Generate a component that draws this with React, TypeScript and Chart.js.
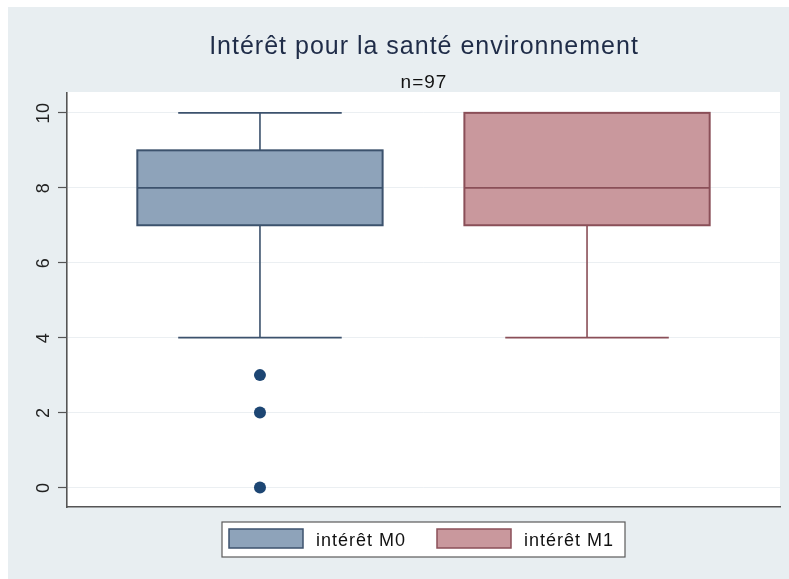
import React, { useEffect, useRef } from 'react';
import { Chart, registerables } from 'chart.js';

Chart.register(...registerables);

// ---- data ----
const titleText = 'Intérêt pour la santé environnement';
const subtitleText = 'n=97';
const seriesNames = ['intérêt M0', 'intérêt M1'];
const seriesX = [0, 1];
const lowerWhisker = [4, 4];
const q1 = [7, 7];
const medians = [8, 8];
const q3 = [9, 10];
const upperWhisker = [10, 10];
const outliersM0 = [3, 2, 0];
const outliersM1: number[] = [];
const yTicks = [0, 2, 4, 6, 8, 10];

// ---- styles ----
const fills = ['#8ea3ba', '#c9989d'];
const strokes = ['#3c526d', '#8a4f58'];
const dotColor = '#1d4673';
const FONT = '"Liberation Sans", Arial, Helvetica, sans-serif';

const BOX_HALF = 0.375;
const CAP_HALF = 0.25;

const stataPlugin = {
  id: 'stataLook',
  beforeDraw(chart: any) {
    const { ctx, chartArea: a, width, height } = chart;
    ctx.save();
    ctx.fillStyle = '#ffffff';
    ctx.fillRect(0, 0, width, height);
    ctx.fillStyle = '#e8eef1';
    ctx.fillRect(8, 7, width - 8, height - 7);
    ctx.fillStyle = '#ffffff';
    ctx.fillRect(a.left, a.top - 1, a.right - a.left, a.bottom - a.top + 1);
    ctx.restore();
  },
  beforeDatasetsDraw(chart: any) {
    const { ctx } = chart;
    const xs = chart.scales.x;
    const ys = chart.scales.y;
    ctx.save();
    seriesX.forEach((xv, i) => {
      const cx = xs.getPixelForValue(xv);
      const bl = xs.getPixelForValue(xv - BOX_HALF);
      const br = xs.getPixelForValue(xv + BOX_HALF);
      const cl = xs.getPixelForValue(xv - CAP_HALF);
      const cr = xs.getPixelForValue(xv + CAP_HALF);
      const yq1 = ys.getPixelForValue(q1[i]);
      const yq3 = ys.getPixelForValue(q3[i]);
      const ymed = ys.getPixelForValue(medians[i]);
      const ylw = ys.getPixelForValue(lowerWhisker[i]);
      const yuw = ys.getPixelForValue(upperWhisker[i]);
      ctx.strokeStyle = strokes[i];
      ctx.lineWidth = 1.6;
      ctx.beginPath();
      ctx.moveTo(cx, yq1); ctx.lineTo(cx, ylw);
      ctx.moveTo(cl, ylw); ctx.lineTo(cr, ylw);
      ctx.moveTo(cx, yq3); ctx.lineTo(cx, yuw);
      ctx.moveTo(cl, yuw); ctx.lineTo(cr, yuw);
      ctx.stroke();
      ctx.fillStyle = fills[i];
      ctx.fillRect(bl, yq3, br - bl, yq1 - yq3);
      ctx.lineWidth = 2;
      ctx.strokeRect(bl, yq3, br - bl, yq1 - yq3);
      ctx.lineWidth = 1.8;
      ctx.beginPath();
      ctx.moveTo(bl, ymed); ctx.lineTo(br, ymed);
      ctx.stroke();
    });
    ctx.restore();
  },
  afterDraw(chart: any) {
    const { ctx, chartArea: a } = chart;
    const ys = chart.scales.y;
    const cx = (a.left + a.right) / 2;
    ctx.save();
    ctx.textAlign = 'center';
    ctx.textBaseline = 'alphabetic';
    (ctx as any).letterSpacing = '1px';
    ctx.fillStyle = '#1f2c48';
    ctx.font = `25px ${FONT}`;
    ctx.fillText(titleText, cx + 0.5, 54);
    ctx.fillStyle = '#111111';
    ctx.font = `19px ${FONT}`;
    ctx.fillText(subtitleText, cx + 0.5, 88);

    // rotated y tick labels
    (ctx as any).letterSpacing = '0.5px';
    ctx.font = `18px ${FONT}`;
    ctx.fillStyle = '#222222';
    yTicks.forEach((v) => {
      const y = ys.getPixelForValue(v);
      ctx.save();
      ctx.translate(48.5, y + 0.25);
      ctx.rotate(-Math.PI / 2);
      ctx.textAlign = 'center';
      ctx.fillText(String(v), 0, 0);
      ctx.restore();
    });

    // legend
    const lx = cx - 201.5;
    const ly = 522;
    ctx.fillStyle = '#ffffff';
    ctx.fillRect(lx, ly, 403, 35);
    ctx.strokeStyle = '#5a5a5a';
    ctx.lineWidth = 1.2;
    ctx.strokeRect(lx, ly, 403, 35);
    const swatchX = [cx - 194.5, cx + 13.5];
    const textX = [cx - 107.5, cx + 100.5];
    (ctx as any).letterSpacing = '1px';
    ctx.font = `18px ${FONT}`;
    ctx.textAlign = 'left';
    seriesNames.forEach((name, i) => {
      ctx.fillStyle = fills[i];
      ctx.fillRect(swatchX[i], 529, 74, 19);
      ctx.strokeStyle = strokes[i];
      ctx.lineWidth = 1.5;
      ctx.strokeRect(swatchX[i], 529, 74, 19);
      ctx.fillStyle = '#111111';
      ctx.fillText(name, textX[i], 546);
    });
    ctx.restore();
  },
};

export default function App() {
  const canvasRef = useRef<HTMLCanvasElement | null>(null);

  useEffect(() => {
    const canvas = canvasRef.current;
    if (!canvas) return;
    const outlierSets = [outliersM0, outliersM1];
    const chart = new Chart(canvas, {
      type: 'scatter',
      data: {
        datasets: seriesNames.map((name, i) => ({
          label: name,
          data: outlierSets[i].map((v) => ({ x: seriesX[i], y: v })),
          pointRadius: 6,
          pointHoverRadius: 6,
          pointBackgroundColor: dotColor,
          pointBorderColor: dotColor,
          pointBorderWidth: 0,
          showLine: false,
        })),
      },
      options: {
        responsive: false,
        animation: false,
        devicePixelRatio: 1,
        events: [],
        layout: { padding: { left: 0, top: 93, right: 9, bottom: 72 } },
        plugins: {
          legend: { display: false },
          title: { display: false },
          tooltip: { enabled: false },
        },
        scales: {
          x: {
            type: 'linear',
            min: -0.59,
            max: 1.59,
            ticks: { display: false },
            grid: { display: false, drawTicks: false },
            border: { display: true, color: '#555555', width: 1.6 },
            afterFit: (scale: any) => {
              scale.height = 0;
            },
          },
          y: {
            type: 'linear',
            min: -0.52,
            max: 10.53,
            afterBuildTicks: (scale: any) => {
              scale.ticks = yTicks.map((v) => ({ value: v }));
            },
            ticks: { display: false },
            grid: {
              color: '#ebeff2',
              lineWidth: 1,
              drawTicks: true,
              tickLength: 9,
              tickColor: '#555555',
              tickWidth: 1.2,
            },
            border: { display: true, color: '#555555', width: 1.6 },
            afterFit: (scale: any) => {
              scale.width = 67;
            },
          },
        },
      },
      plugins: [stataPlugin],
    } as any);
    return () => chart.destroy();
  }, []);

  return (
    <div style={{ position: 'fixed', left: 0, top: 0, width: 789, height: 579 }}>
      <canvas ref={canvasRef} width={789} height={579} style={{ display: 'block' }} />
    </div>
  );
}
